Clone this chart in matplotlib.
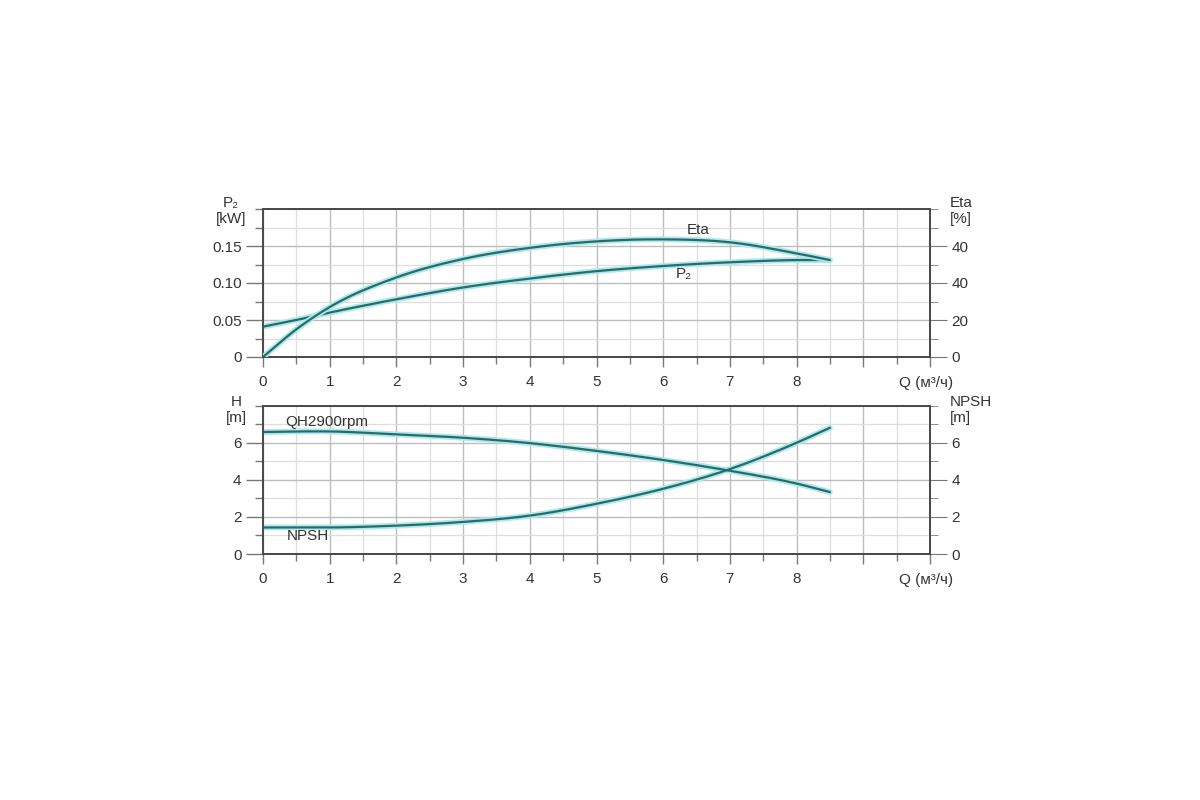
import matplotlib
matplotlib.use('Agg')
import matplotlib.pyplot as plt
import numpy as np
from matplotlib.ticker import MultipleLocator

plt.rcParams['font.family'] = ['Liberation Sans', 'DejaVu Sans']

# расход Q, м3/ч
q = [0, 0.5, 1, 2, 3, 4, 5, 6, 7, 8, 8.5]
# мощность P2, кВт
p2 = [0.041, 0.050, 0.060, 0.078, 0.094, 0.106, 0.116, 0.123, 0.128, 0.131, 0.131]
# КПД, %
eta = [0, 15.0, 27.0, 43.0, 53.0, 59.0, 62.5, 63.6, 62.0, 56.0, 52.4]
# напор H, м
head = [6.58, 6.61, 6.61, 6.45, 6.27, 5.98, 5.56, 5.07, 4.49, 3.80, 3.34]
# NPSH, м
npsh = [1.43, 1.43, 1.43, 1.53, 1.73, 2.07, 2.71, 3.52, 4.58, 6.00, 6.81]

x_ticks = [0, 1, 2, 3, 4, 5, 6, 7, 8]
eta_ticks = [0, 20, 40, 60]
eta_labels = ['0', '20', '40', '40']

LINE = '#1f6e72'
GLOW = '#b4e6e6'
GRID_MAJ = '#bdbdbd'
GRID_MIN = '#dedede'
SPINE = '#4a4a4a'
TXT = '#333333'


def smooth(x, y, n=300):
    # cubic hermite through the read points
    x = np.asarray(x, float)
    y = np.asarray(y, float)
    xs = np.linspace(x.min(), x.max(), n)
    m = np.gradient(y, x)
    ys = np.empty_like(xs)
    for i, xv in enumerate(xs):
        k = min(np.searchsorted(x, xv, side='right') - 1, len(x) - 2)
        h = x[k + 1] - x[k]
        t = (xv - x[k]) / h
        h00 = 2 * t**3 - 3 * t**2 + 1
        h10 = t**3 - 2 * t**2 + t
        h01 = -2 * t**3 + 3 * t**2
        h11 = t**3 - t**2
        ys[i] = h00 * y[k] + h10 * h * m[k] + h01 * y[k + 1] + h11 * h * m[k + 1]
    return xs, ys


def curve(ax, x, y):
    xs, ys = smooth(x, y)
    ax.plot(xs, ys, color=GLOW, lw=4.2, solid_capstyle='round', zorder=3)
    ax.plot(xs, ys, color=LINE, lw=1.6, solid_capstyle='round', zorder=4)


def spines(ax):
    for s in ax.spines.values():
        s.set_color(SPINE)
        s.set_linewidth(1.3)


def style(ax, ymax, ymaj, ymin):
    ax.set_xlim(0, 10)
    ax.set_ylim(0, ymax)
    ax.xaxis.set_major_locator(MultipleLocator(1))
    ax.xaxis.set_minor_locator(MultipleLocator(0.5))
    ax.yaxis.set_major_locator(MultipleLocator(ymaj))
    ax.yaxis.set_minor_locator(MultipleLocator(ymin))
    ax.grid(which='major', color=GRID_MAJ, lw=1.0, zorder=0)
    ax.grid(which='minor', color=GRID_MIN, lw=0.9, zorder=0)
    ax.set_axisbelow(True)
    spines(ax)
    ax.tick_params(which='major', direction='out', length=12, width=1, color='#777777',
                   labelsize=11, labelcolor=TXT)
    ax.tick_params(which='minor', direction='out', length=6, width=1, color='#777777')
    ax.tick_params(axis='x', which='major', length=7, pad=6)
    ax.tick_params(axis='x', which='minor', length=5)
    ax.set_xticks(range(11))
    ax.set_xticklabels([str(v) if v in x_ticks else '' for v in range(11)])
    ax.text(1.035, -0.175, 'Q (м³/ч)', transform=ax.transAxes, ha='right', va='center',
            fontsize=11, color=TXT)


def right_axis(ax):
    ax.tick_params(which='major', direction='out', length=12, color='#777777',
                   labelsize=11, labelcolor=TXT)
    ax.tick_params(which='minor', direction='out', length=6, color='#777777')
    spines(ax)


fig = plt.figure(figsize=(12, 8), dpi=100)
fig.patch.set_facecolor('white')

# ---- верхний график: P2 и Eta ----
ax1 = fig.add_axes([0.2192, 0.55375, 0.5558, 0.185])
style(ax1, 0.20, 0.05, 0.025)
ax1.set_yticks([0, 0.05, 0.10, 0.15])
ax1.set_yticks(np.arange(0, 0.2001, 0.025), minor=True)
ax1.set_yticklabels(['0', '0.05', '0.10', '0.15'])
curve(ax1, q, p2)

ax1r = ax1.twinx()
ax1r.set_ylim(0, 80)
ax1r.set_yticks(eta_ticks)
ax1r.set_yticklabels(eta_labels)
ax1r.yaxis.set_minor_locator(MultipleLocator(10))
right_axis(ax1r)
curve(ax1r, q, eta)

ax1.text(-0.048, 0.985, 'P₂\n[kW]', transform=ax1.transAxes, ha='center', va='center',
         fontsize=11, color=TXT, linespacing=1.15)
ax1.text(1.03, 0.985, 'Eta\n[%]', transform=ax1.transAxes, ha='left', va='center',
         fontsize=11, color=TXT, linespacing=1.15)
ax1r.text(6.52, 68.6, 'Eta', ha='center', va='center', fontsize=11, color=TXT)
ax1.text(6.31, 0.112, 'P₂', ha='center', va='center', fontsize=11, color=TXT)

# ---- нижний график: H и NPSH ----
ax2 = fig.add_axes([0.2192, 0.3075, 0.5558, 0.1854])
style(ax2, 8, 2, 1)
ax2.set_yticks([0, 2, 4, 6])
curve(ax2, q, head)
curve(ax2, q, npsh)

ax2r = ax2.twinx()
ax2r.set_ylim(0, 8)
ax2r.set_yticks([0, 2, 4, 6])
ax2r.yaxis.set_minor_locator(MultipleLocator(1))
right_axis(ax2r)

ax2.text(-0.04, 0.97, 'H\n[m]', transform=ax2.transAxes, ha='center', va='center',
         fontsize=11, color=TXT, linespacing=1.15)
ax2.text(1.03, 0.97, 'NPSH\n[m]', transform=ax2.transAxes, ha='left', va='center',
         fontsize=11, color=TXT, linespacing=1.15)
ax2.text(0.33, 7.1, 'QH2900rpm', ha='left', va='center', fontsize=11, color=TXT)
ax2.text(0.36, 0.98, 'NPSH', ha='left', va='center', fontsize=11, color=TXT)

fig.savefig('out.png', dpi=100, facecolor='white')
